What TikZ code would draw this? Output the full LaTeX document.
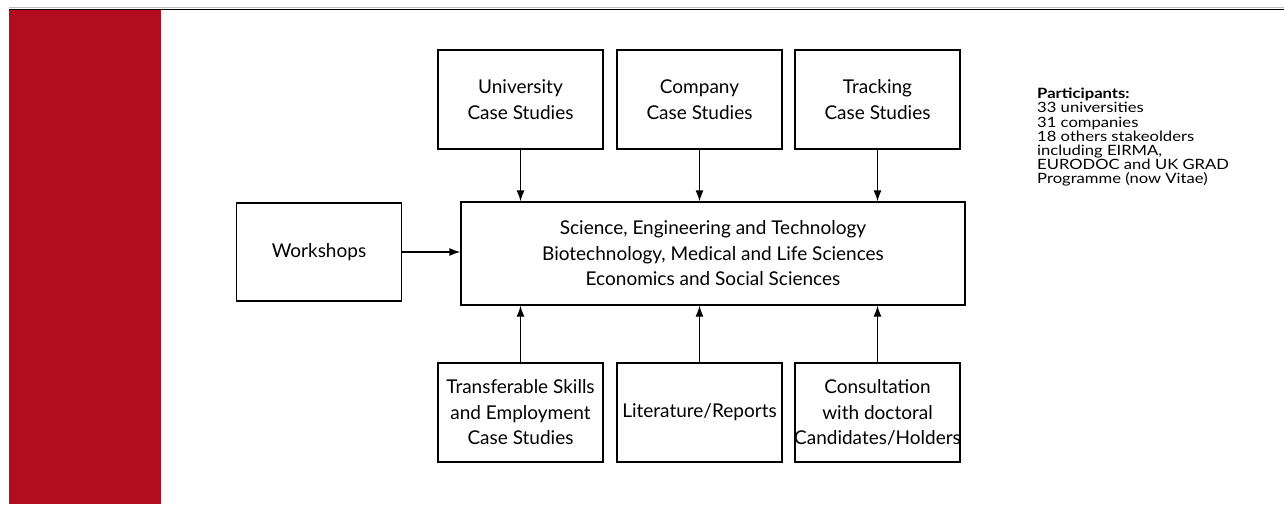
\documentclass[tikz,border=0pt]{standalone}
\usepackage{fontspec}
\setmainfont{Lato}
\newfontfamily\parfont[FakeStretch=1.17]{Lato}
\usetikzlibrary{arrows.meta}
\definecolor{bandred}{HTML}{B10D1E}
\begin{document}
\begin{tikzpicture}[x=1pt,y=-1pt,
  box/.style={draw, line width=1.3pt, align=center, inner sep=0pt,
    minimum width=165pt, minimum height=99pt,
    font=\fontsize{19}{25.5}\selectfont},
  arr/.style={line width=1.3pt, -{Latex[length=11pt,width=8pt]}}]
\useasboundingbox (0,0) rectangle (1284,504);
\fill[bandred] (9,9) rectangle (161,504);
\draw[black!25, line width=1pt] (9,7.5) -- (1284,7.5);
\draw[line width=1.2pt] (9,9.3) -- (1284,9.3);

\node[box] (uni) at (520.5,99.5) {University\\Case Studies};
\node[box] (com) at (699.5,99.5) {Company\\Case Studies};
\node[box] (tra) at (877.5,99.5) {Tracking\\Case Studies};
\node[box, minimum width=504pt, minimum height=103pt] (cen) at (713,253.5)
  {Science, Engineering and Technology\\Biotechnology, Medical and Life Sciences\\Economics and Social Sciences};
\node[box, minimum height=98pt] (wor) at (319,252) {Workshops};
\node[box] (tsk) at (520.5,412.5) {Transferable Skills\\and Employment\\Case Studies};
\node[box] (lit) at (699.5,412.5) {\makebox[0pt]{Literature/Reports}};
\node[box] (con) at (877.5,412.5) {Consultation\\with doctoral\\\makebox[0pt]{Candidates/Holders}};

\draw[arr] (uni.south) -- (uni.south |- cen.north);
\draw[arr] (com.south) -- (com.south |- cen.north);
\draw[arr] (tra.south) -- (tra.south |- cen.north);
\draw[arr] (tsk.north) -- (tsk.north |- cen.south);
\draw[arr] (lit.north) -- (lit.north |- cen.south);
\draw[arr] (con.north) -- (con.north |- cen.south);
\draw[arr] (wor.east) -- (wor.east -| cen.west);

\node[anchor=north west, align=left, inner sep=0pt,
  font=\parfont\fontsize{14.2}{14.2}\selectfont] (par) at (1037,88)
  {\textbf{Participants:}\\33 universities\\31 companies\\18 others stakeolders\\including EIRMA,\\EURODOC and UK GRAD\\Programme (now Vitae)};
\end{tikzpicture}
\end{document}
